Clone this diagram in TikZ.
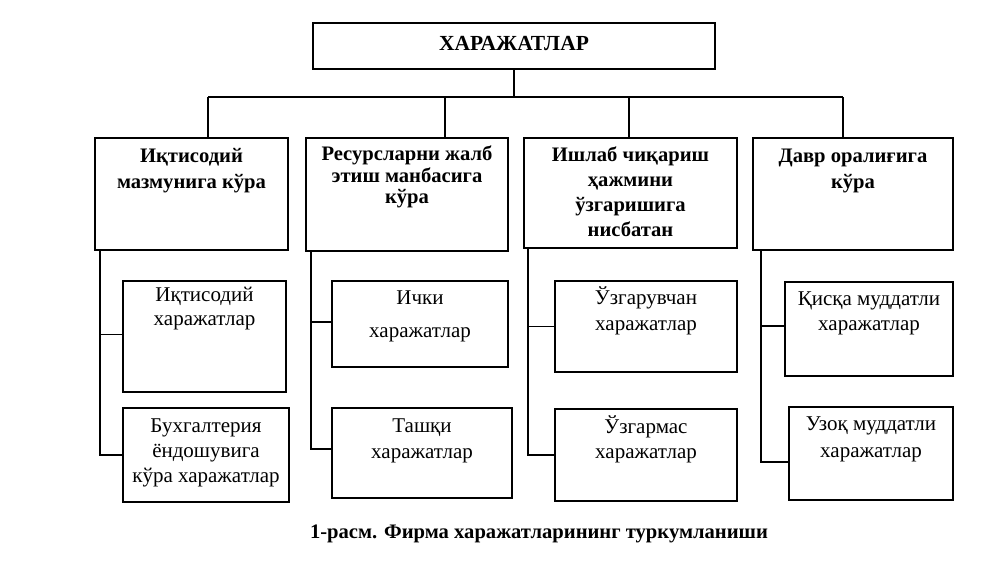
\documentclass[tikz,border=0pt]{standalone}
\usepackage{fontspec}
\setmainfont{Liberation Serif}
\begin{document}
\begin{tikzpicture}[x=1pt,y=-1pt,
  box/.style={draw=black,line width=1.8pt,rectangle,inner sep=0pt},
  conn/.style={draw=black,line width=1.3pt},
  bt/.style={anchor=north,align=center,inner sep=0pt,font=\fontsize{20.6}{#1}\selectfont\bfseries},
  rt/.style={anchor=north,align=center,inner sep=0pt,font=\fontsize{21}{#1}\selectfont}]
\useasboundingbox[fill=white] (0,0) rectangle (1000,562);
% top
\node[box,minimum width=402pt,minimum height=46pt] (top) at (514,46) {};
\node[anchor=base,inner sep=0pt,font=\fontsize{21.5}{25}\selectfont\bfseries] (tt) at (514,50) {ХАРАЖАТЛАР};
% categories
\node[box,minimum width=193pt,minimum height=112pt] (c1) at (191.5,194) {};
\node[box,minimum width=202pt,minimum height=113pt] (c2) at (407,194.5) {};
\node[box,minimum width=213pt,minimum height=110pt] (c3) at (630.5,193) {};
\node[box,minimum width=200pt,minimum height=112pt] (c4) at (853,194) {};
\node[bt=26] (t1) at ([yshift=-7pt]c1.north) {\strut Иқтисодий\\мазмунига кўра};
\node[bt=21] (t2) at ([yshift=-8.5pt]c2.north) {\strut Ресурсларни жалб\\этиш манбасига\\кўра};
\node[bt=25] (t3) at ([yshift=-6.7pt]c3.north) {\strut Ишлаб чиқариш\\ҳажмини\\ўзгаришига\\нисбатан};
\node[bt=26] (t4) at ([yshift=-7pt]c4.north) {\strut Давр оралиғига\\кўра};
% leaves
\node[box,minimum width=163pt,minimum height=111pt] (l1) at (204.5,336.5) {};
\node[box,minimum width=166pt,minimum height=94pt] (l2) at (206,455) {};
\node[box,minimum width=176pt,minimum height=86pt] (l3) at (420,324) {};
\node[box,minimum width=180pt,minimum height=90pt] (l4) at (422,453) {};
\node[box,minimum width=182pt,minimum height=91pt] (l5) at (646,326.5) {};
\node[box,minimum width=182pt,minimum height=92pt] (l6) at (646,455) {};
\node[box,minimum width=168pt,minimum height=94pt] (l7) at (869,329) {};
\node[box,minimum width=164pt,minimum height=93pt] (l8) at (871,453.5) {};
\node[rt=24] (u1) at ([yshift=-4.5pt]l1.north) {\strut Иқтисодий\\харажатлар};
\node[rt=25] (u2) at ([yshift=-7.8pt]l2.north) {\strut Бухгалтерия\\ёндошувига\\кўра харажатлар};
\node[rt=33] (u3) at ([yshift=-1.2pt]l3.north) {\strut Ички\\харажатлар};
\node[rt=26] (u4) at ([yshift=-7.1pt]l4.north) {\strut Ташқи\\харажатлар};
\node[rt=26] (u5) at ([yshift=-6.1pt]l5.north) {\strut Ўзгарувчан\\харажатлар};
\node[rt=25] (u6) at ([yshift=-7.8pt]l6.north) {\strut Ўзгармас\\харажатлар};
\node[rt=25] (u7) at ([yshift=-6.8pt]l7.north) {\strut Қисқа муддатли\\харажатлар};
\node[rt=27] (u8) at ([yshift=-5.4pt]l8.north) {\strut Узоқ муддатли\\харажатлар};
% caption
\node[anchor=base,font=\fontsize{20.6}{24}\selectfont\bfseries,inner sep=0pt] (cap) at (539,538) {1-расм. Фирма харажатларининг туркумланиши};
% connectors
\coordinate (b1) at (208,97);
\coordinate (b2) at (445,97);
\coordinate (b3) at (629,97);
\coordinate (b4) at (843,97);
\draw[conn] (top.south) -- (top.south |- b1);
\draw[conn] (b1) -- (b4);
\draw[conn] (b1) -- (b1 |- c1.north);
\draw[conn] (b2) -- (b2 |- c2.north);
\draw[conn] (b3) -- (b3 |- c3.north);
\draw[conn] (b4) -- (b4 |- c4.north);
\coordinate (s1) at ([xshift=6pt]c1.south west);
\coordinate (s2) at ([xshift=6pt]c2.south west);
\coordinate (s3) at ([xshift=5pt]c3.south west);
\coordinate (s4) at ([xshift=9pt]c4.south west);
\draw[conn] (s1) |- ([yshift=2pt]l1.west);
\draw[conn] (s1) |- (l2.west);
\draw[conn] (s2) |- ([yshift=2pt]l3.west);
\draw[conn] (s2) |- ([yshift=4pt]l4.west);
\draw[conn] (s3) |- (l5.west);
\draw[conn] (s3) |- (l6.west);
\draw[conn] (s4) |- ([yshift=3pt]l7.west);
\draw[conn] (s4) |- ([yshift=-8.5pt]l8.west);
\end{tikzpicture}
\end{document}
